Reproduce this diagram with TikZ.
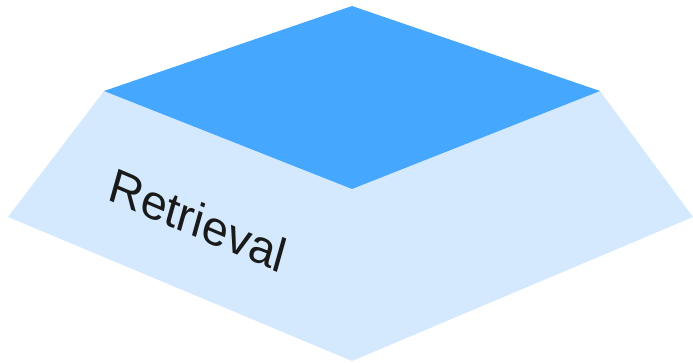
\documentclass[tikz,border=0pt]{standalone}
\usepackage{fontspec}
\setmainfont{Liberation Sans}
\definecolor{sidecol}{HTML}{D4E9FE}
\definecolor{topcol}{HTML}{45A8FE}
\definecolor{txtcol}{HTML}{1A1A1A}
\begin{document}
\begin{tikzpicture}[x=1pt,y=1pt,
  face/.style={fill=sidecol,draw=none},
  topface/.style={fill=topcol,draw=none}]
\useasboundingbox (0,0) rectangle (693,363);
\coordinate (T) at (352,357);
\coordinate (L) at (104,272);
\coordinate (B) at (352,174);
\coordinate (R) at (600,272);
\coordinate (LL) at (8,146);
\coordinate (BB) at (352,2);
\coordinate (RR) at (693,146);
\fill[face] (L) -- (LL) -- (BB) -- (RR) -- (R) -- (B) -- cycle;
\fill[topface] (T) -- (L) -- (B) -- (R) -- cycle;
\node[text=txtcol,font=\fontsize{48}{48}\selectfont,inner sep=0pt,
  cm={0.92,-0.39,0.27,0.96,(0,0)}] (lbl) at (198,143) {Retrieval};
\end{tikzpicture}
\end{document}
